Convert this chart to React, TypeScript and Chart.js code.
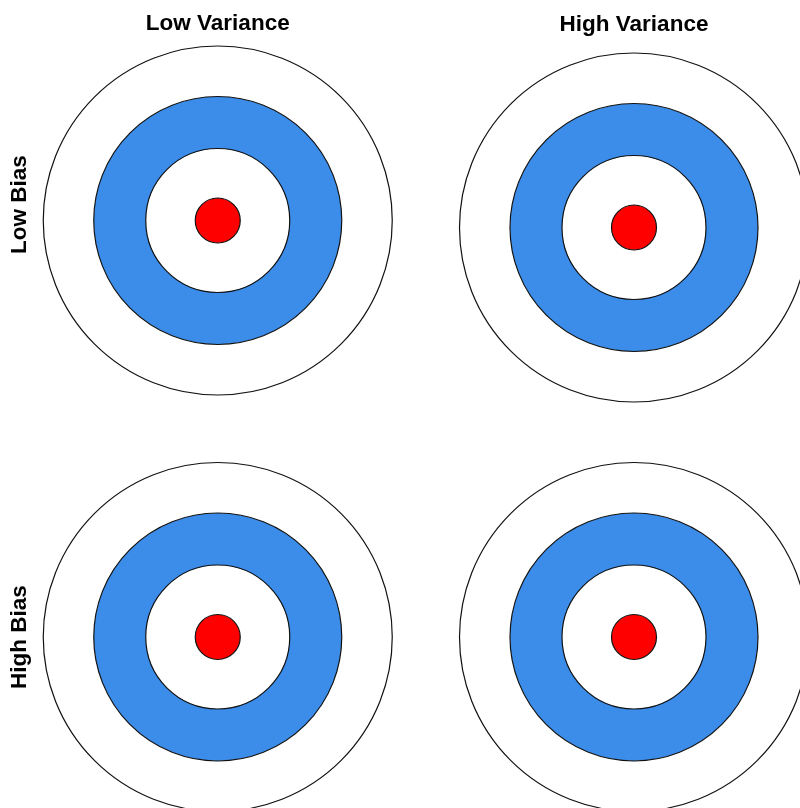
import React, { useEffect, useRef } from 'react';
import { Chart, registerables } from 'chart.js';

Chart.register(...registerables);

// ---- Data -------------------------------------------------------------
const columnTitles = ['Low Variance', 'High Variance'];
const rowTitles = ['Low Bias', 'High Bias'];
const ringNames = ['Outer ring', 'Middle ring', 'Inner ring', 'Bullseye'];
// outer-edge radius of each ring (outermost first)
const ringOuterRadii = [174.5, 124, 72, 22.5];
// each ring is one complete circle
const ringValues = [1, 1, 1, 1];

// ---- Style -------------------------------------------------------------
const RING_COLORS = ['#ffffff', '#3c8dea', '#ffffff', '#ff0000'];
const OUTLINE = '#111111';
const OUTLINE_WIDTH = 1.2;
const FONT = { family: '"Liberation Sans", Arial, Helvetica, sans-serif', size: 22.5, weight: 'bold' as const };

// Strokes each ring's edge as a seamless circle, using the arc elements' own geometry.
const ringOutlinePlugin = {
  id: 'ringOutline',
  afterDatasetsDraw(chart: any) {
    const ctx = chart.ctx as CanvasRenderingContext2D;
    ctx.save();
    ctx.strokeStyle = OUTLINE;
    ctx.lineWidth = OUTLINE_WIDTH;
    chart.data.datasets.forEach((_: unknown, i: number) => {
      const meta = chart.getDatasetMeta(i);
      meta.data.forEach((arc: any) => {
        ctx.beginPath();
        ctx.arc(arc.x, arc.y, arc.outerRadius, 0, Math.PI * 2);
        ctx.stroke();
      });
    });
    ctx.restore();
  },
};

type Box = { left: number; top: number; width: number; height: number };

interface TargetProps {
  box: Box;
  colTitle?: string;
  colPadding?: { top: number; bottom: number };
  rowTitle?: string;
}

function Target({ box, colTitle, colPadding, rowTitle }: TargetProps) {
  const ref = useRef<HTMLCanvasElement>(null);
  useEffect(() => {
    const weights = ringOuterRadii.map((r, i) => r - (i + 1 < ringOuterRadii.length ? ringOuterRadii[i + 1] : 0));
    const chart = new Chart(ref.current as HTMLCanvasElement, {
      type: 'doughnut',
      data: {
        labels: ['Target'],
        datasets: ringNames.map((name, i) => ({
          label: name,
          data: [ringValues[i]],
          weight: weights[i],
          backgroundColor: RING_COLORS[i],
          borderWidth: 0,
          hoverOffset: 0,
        })),
      },
      options: {
        responsive: false,
        animation: false,
        events: [],
        cutout: 0,
        radius: 174.5,
        circumference: 360,
        rotation: 0,
        layout: { padding: 0 },
        plugins: {
          legend: { display: false },
          tooltip: { enabled: false },
          title: colTitle
            ? {
                display: true,
                text: colTitle,
                position: 'top',
                fullSize: false,
                padding: colPadding,
                font: FONT,
                color: '#000',
              }
            : { display: false },
          subtitle: rowTitle
            ? {
                display: true,
                text: rowTitle,
                position: 'left',
                fullSize: true,
                padding: { top: 6.5, bottom: 4 },
                font: FONT,
                color: '#000',
              }
            : { display: false },
        },
      } as any,
      plugins: [ringOutlinePlugin],
    });
    return () => chart.destroy();
  }, []);
  return (
    <canvas
      ref={ref}
      width={box.width}
      height={box.height}
      style={{ position: 'absolute', left: box.left, top: box.top, width: box.width, height: box.height }}
    />
  );
}

export default function App() {
  return (
    <div
      style={{
        position: 'fixed',
        left: 0,
        top: 0,
        width: 800,
        height: 808,
        overflow: 'hidden',
        background: '#ffffff',
      }}
    >
      <Target
        box={{ left: 0, top: 8, width: 398, height: 393 }}
        colTitle={columnTitles[0]}
        colPadding={{ top: 2.2, bottom: 2.8 }}
        rowTitle={rowTitles[0]}
      />
      <Target
        box={{ left: 454, top: 0, width: 360, height: 407 }}
        colTitle={columnTitles[1]}
        colPadding={{ top: 11, bottom: 10 }}
      />
      <Target box={{ left: 0, top: 452, width: 398, height: 370 }} rowTitle={rowTitles[1]} />
      <Target box={{ left: 454, top: 452, width: 360, height: 370 }} />
    </div>
  );
}
